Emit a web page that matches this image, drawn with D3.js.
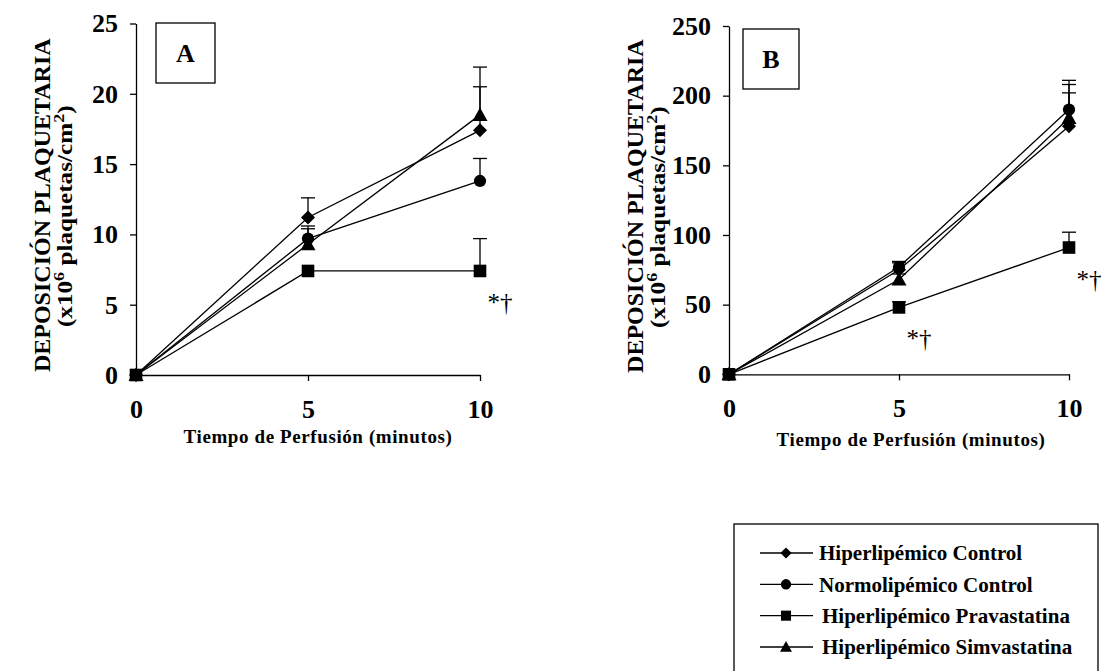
<!DOCTYPE html>
<html>
<head>
<meta charset="utf-8">
<script src="https://cdn.jsdelivr.net/npm/d3@7"></script>
<style>
    html, body { margin: 0; padding: 0; background: #fff; }
    svg { display: block; font-family: "Liberation Serif", "Times New Roman", serif; }
</style>
</head>
<body>
<svg id="chart" width="1109" height="671"></svg>
<script>
"use strict";

// --- data -------------------------------------------------------------
const TIMES = [0, 5, 10];
const SERIES = [
    "Hiperlipémico Control",
    "Normolipémico Control",
    "Hiperlipémico Pravastatina",
    "Hiperlipémico Simvastatina"
];
const SYMBOLS = ["diamond", "circle", "square", "triangle"];

// panel A (x10^6 plaquetas/cm2)
const MEAN_A = [
    [0, 11.2, 17.4],
    [0, 9.7, 13.8],
    [0, 7.4, 7.4],
    [0, 9.3, 18.5]
];
const ERR_A = [
    [0, 1.4, 3.1],
    [0, 0.9, 1.6],
    [0, 0, 2.3],
    [0, 1.1, 3.4]
];
const TICKS_A = [0, 5, 10, 15, 20, 25];

// panel B
const MEAN_B = [
    [0, 75, 178],
    [0, 77, 190],
    [0, 48, 91],
    [0, 68, 184]
];
const ERR_B = [
    [0, 5, 24],
    [0, 4, 21],
    [0, 4, 11],
    [0, 4, 24]
];
const TICKS_B = [0, 50, 100, 150, 200, 250];

// significance marks: [series, time index]
const MARKS_A = [[2, 2]];
const MARKS_B = [[2, 1], [2, 2]];

// --- layout -----------------------------------------------------------
const panels = [
    {
        id: "A", means: MEAN_A, errs: ERR_A, ticks: TICKS_A, marks: MARKS_A,
        x0: 136, x1: 480, y0: 375, y1: 23.5,
        box: { x: 156, y: 23, w: 59, h: 60 },
        titleX: 42, subX: 65, xTitleX: 318, xTitleY: 443
    },
    {
        id: "B", means: MEAN_B, errs: ERR_B, ticks: TICKS_B, marks: MARKS_B,
        x0: 729, x1: 1069, y0: 374.3, y1: 26,
        box: { x: 743, y: 29, w: 56, h: 60 },
        titleX: 635, subX: 658, xTitleX: 911, xTitleY: 446
    }
];

const svg = d3.select("#chart");
const FONT = "'Liberation Serif', 'Times New Roman', serif";

/**
 * Returns a path string for a marker centred on 0,0
 *
 * @param {string} type - marker name
 * @returns {string} svg path
 */
const markerPath = (type) => {
    switch (type) {
        case "diamond":
            return "M0,-7L7,0L0,7L-7,0Z";
        case "circle":
            return d3.symbol(d3.symbolCircle, 118)();
        case "square":
            return "M-6.3,-6.3H6.3V6.3H-6.3Z";
        default:
            return "M0,-7.5L7.5,6L-7.5,6Z";
    }
};

const drawPanel = (p) => {
    const x = d3.scaleLinear().domain([0, 10]).range([p.x0, p.x1]);
    const y = d3.scaleLinear().domain([0, d3.max(p.ticks)]).range([p.y0, p.y1]);
    const g = svg.append("g");

    // y axis
    const yAxis = g.append("g")
        .attr("transform", `translate(${p.x0},0)`)
        .call(d3.axisLeft(y).tickValues(p.ticks).tickSize(6).tickPadding(12).tickSizeOuter(0));
    // x axis
    const xAxis = g.append("g")
        .attr("transform", `translate(0,${p.y0})`)
        .call(d3.axisBottom(x).tickValues(TIMES).tickSize(6).tickPadding(28).tickSizeOuter(0));
    [yAxis, xAxis].forEach((a) => {
        a.attr("font-family", null).attr("font-size", null);
        a.select(".domain").attr("stroke", "#000").attr("stroke-width", 1.3);
        a.selectAll(".tick line").attr("stroke", "#000").attr("stroke-width", 1.3);
        a.selectAll("text")
            .attr("fill", "#000")
            .style("font-family", FONT)
            .style("font-weight", "bold")
            .style("font-size", "26px");
    });
    xAxis.selectAll("text").attr("dy", "0.35em");

    // axis titles
    g.append("text")
        .attr("transform", `translate(${p.titleX},${(p.y0 + p.y1) / 2 + 6}) rotate(-90)`)
        .attr("text-anchor", "middle")
        .attr("dy", "0.35em")
        .style("font-size", "24px")
        .style("font-weight", "bold")
        .text("DEPOSICIÓN PLAQUETARIA");
    const sub = g.append("text")
        .attr("transform", `translate(${p.subX},${(p.y0 + p.y1) / 2 + 17}) rotate(-90) scale(1.2,1)`)
        .attr("text-anchor", "middle")
        .attr("dy", "0.35em")
        .style("font-size", "21px")
        .style("font-weight", "bold");
    sub.append("tspan").text("(x10");
    sub.append("tspan").attr("dy", -8).style("font-size", "15px").text("6");
    sub.append("tspan").attr("dy", 8).text(" plaquetas/cm");
    sub.append("tspan").attr("dy", -8).style("font-size", "15px").text("2");
    sub.append("tspan").attr("dy", 8).text(")");

    g.append("text")
        .attr("x", p.xTitleX)
        .attr("y", p.xTitleY)
        .attr("text-anchor", "middle")
        .style("font-size", "19px")
        .style("font-weight", "bold")
        .style("letter-spacing", "0.6px")
        .text("Tiempo de Perfusión (minutos)");

    // panel letter box
    g.append("rect")
        .attr("x", p.box.x).attr("y", p.box.y)
        .attr("width", p.box.w).attr("height", p.box.h)
        .attr("fill", "#fff").attr("stroke", "#000").attr("stroke-width", 1.3);
    g.append("text")
        .attr("x", p.box.x + p.box.w / 2)
        .attr("y", p.box.y + p.box.h / 2 + 9)
        .attr("text-anchor", "middle")
        .style("font-size", "26px")
        .style("font-weight", "bold")
        .text(p.id);

    const line = d3.line().x((d) => x(d.t)).y((d) => y(d.v));
    const rows = p.means.map((m, i) =>
        TIMES.map((t, j) => ({ t: t, v: m[j], e: p.errs[i][j], s: i }))
    );

    // error bars (upper only)
    rows.forEach((r) => {
        r.filter((d) => d.e > 0).forEach((d) => {
            g.append("line")
                .attr("x1", x(d.t)).attr("x2", x(d.t))
                .attr("y1", y(d.v)).attr("y2", y(d.v + d.e))
                .attr("stroke", "#000").attr("stroke-width", 1.3);
            g.append("line")
                .attr("x1", x(d.t) - 7).attr("x2", x(d.t) + 7)
                .attr("y1", y(d.v + d.e)).attr("y2", y(d.v + d.e))
                .attr("stroke", "#000").attr("stroke-width", 1.3);
        });
    });

    // lines
    g.selectAll("path.series")
        .data(rows)
        .enter()
        .append("path")
        .attr("class", "series")
        .attr("d", line)
        .attr("fill", "none")
        .attr("stroke", "#000")
        .attr("stroke-width", 1.3);

    // markers
    rows.forEach((r) => {
        g.selectAll(null)
            .data(r)
            .enter()
            .append("path")
            .attr("d", (d) => markerPath(SYMBOLS[d.s]))
            .attr("transform", (d) => `translate(${x(d.t)},${y(d.v)})`)
            .attr("fill", "#000");
    });

    // significance marks
    p.marks.forEach(([s, j]) => {
        g.append("text")
            .attr("x", x(TIMES[j]) + 20)
            .attr("y", y(p.means[s][j]) + 40)
            .attr("text-anchor", "middle")
            .style("font-size", "25px")
            .text("*†");
    });
};

panels.forEach(drawPanel);

// --- legend -----------------------------------------------------------
const legend = svg.append("g");
legend.append("rect")
    .attr("x", 734).attr("y", 524)
    .attr("width", 364).attr("height", 160)
    .attr("fill", "none").attr("stroke", "#000").attr("stroke-width", 1.3);

const legendY = d3.scalePoint().domain(SERIES).range([553, 647]);
const item = legend.selectAll("g.item")
    .data(SERIES)
    .enter()
    .append("g")
    .attr("class", "item")
    .attr("transform", (d) => `translate(0,${legendY(d)})`);
item.append("line")
    .attr("x1", 760).attr("x2", 813)
    .attr("stroke", "#000").attr("stroke-width", 1.3);
item.append("path")
    .attr("d", (d, i) => markerPath(SYMBOLS[i]))
    .attr("transform", (d, i) => `translate(786,0) scale(${i === 1 ? 0.85 : 0.8})`)
    .attr("fill", "#000");
item.append("text")
    .attr("x", (d, i) => (i < 2 ? 819 : 822))
    .attr("dy", "0.35em")
    .style("font-size", "21px")
    .style("font-weight", "bold")
    .text((d) => d);
</script>
</body>
</html>
